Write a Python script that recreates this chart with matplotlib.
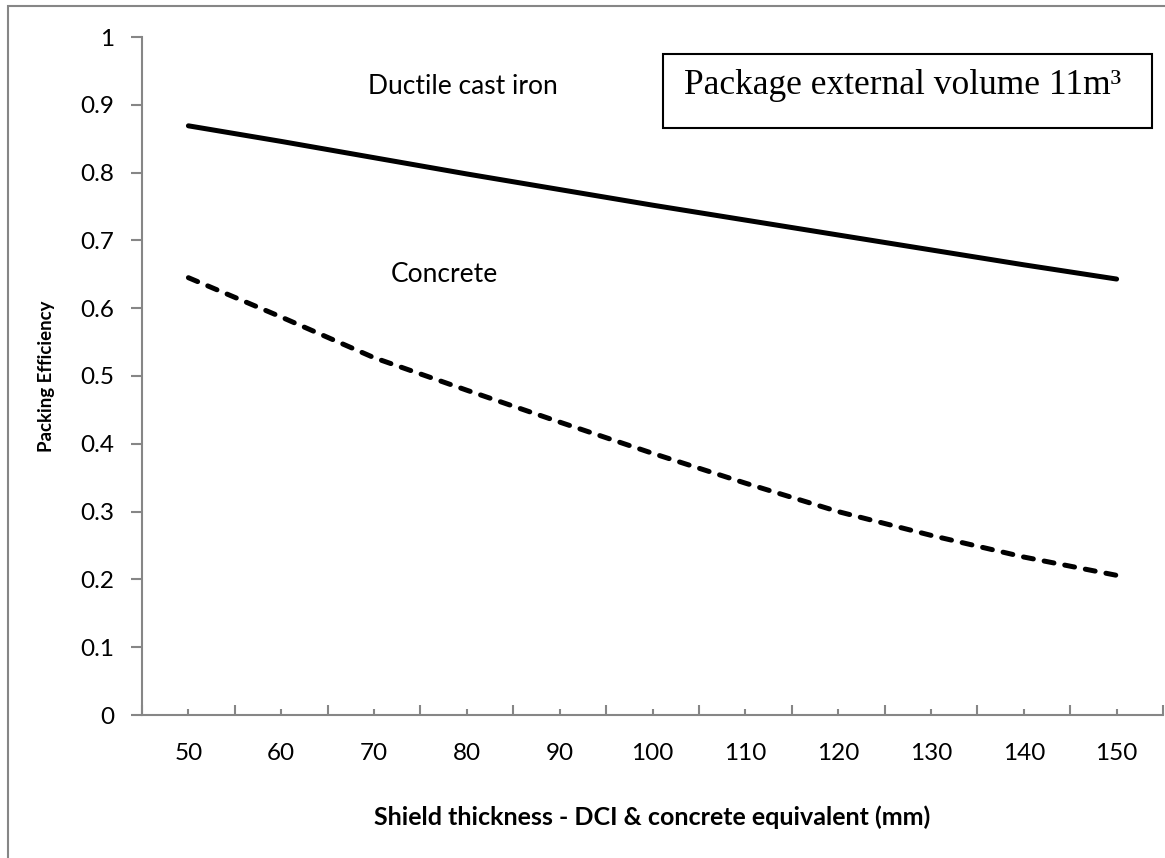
import matplotlib
matplotlib.use("Agg")
import matplotlib.pyplot as plt
from matplotlib.patches import Rectangle
from matplotlib.ticker import FixedLocator

thickness = [50, 60, 70, 80, 90, 100, 110, 120, 130, 140, 150]
dci = [0.869, 0.846, 0.822, 0.798, 0.775, 0.752, 0.730, 0.708, 0.686, 0.664, 0.643]
concrete = [0.645, 0.587, 0.527, 0.479, 0.432, 0.386, 0.342, 0.300, 0.265, 0.233, 0.206]
y_ticks = [0, 0.1, 0.2, 0.3, 0.4, 0.5, 0.6, 0.7, 0.8, 0.9, 1]
y_labels = ["0", "0.1", "0.2", "0.3", "0.4", "0.5", "0.6", "0.7", "0.8", "0.9", "1"]

W, H = 1165, 858
fig = plt.figure(figsize=(W / 100, H / 100), dpi=100)
fig.patch.set_facecolor("white")

# outer chart border
fig.add_artist(Rectangle((8 / W, -0.05), 1.2, 1 - 6 / H + 0.05, transform=fig.transFigure,
                         fill=False, edgecolor="#868686", linewidth=1.5))

ax = fig.add_axes([142 / W, 1 - 715 / H, (1163 - 142) / W, (715 - 37) / H])
ax.set_xlim(45, 155)
ax.set_ylim(0, 1)

ax.plot(thickness, dci, color="black", linewidth=3.6, solid_capstyle="round")
ax.plot(thickness, concrete, color="black", linewidth=3.6, dash_capstyle="round",
        dashes=(2.0, 2.2))

for s in ["top", "right"]:
    ax.spines[s].set_visible(False)
for s in ["left", "bottom"]:
    ax.spines[s].set_color("#868686")
    ax.spines[s].set_linewidth(1.5)

FAM = ["Lato", "DejaVu Sans"]
tick_font = dict(family=FAM, size=17.5)
ax.set_xticks(thickness)
ax.set_xticklabels([str(t) for t in thickness], fontdict=tick_font)
ax.xaxis.set_minor_locator(FixedLocator([45 + 10 * i for i in range(12)]))
ax.tick_params(axis="x", which="major", direction="in", length=4, width=1.5,
               color="#868686", pad=20)
ax.tick_params(axis="x", which="minor", direction="in", length=7, width=1.5,
               color="#868686")
ax.set_yticks(y_ticks)
ax.set_yticklabels(y_labels, fontdict=tick_font)
ax.tick_params(axis="y", which="major", direction="out", length=8, width=1.5,
               color="#868686", pad=12)

ax.set_xlabel("Shield thickness - DCI & concrete equivalent (mm)",
              family=FAM, fontweight="bold", fontsize=18,
              labelpad=30)
ax.set_ylabel("Packing Efficiency", family=FAM,
              fontweight="bold", fontsize=13.4, labelpad=18)

ax.text(463 / W, 1 - 87 / H, "Ductile cast iron", transform=fig.transFigure,
        ha="center", va="center", family=FAM, fontsize=19)
ax.text(444 / W, 1 - 275 / H, "Concrete", transform=fig.transFigure,
        ha="center", va="center", family=FAM, fontsize=19)

fig.add_artist(Rectangle((663 / W, 1 - 128 / H), (1152 - 663) / W, (128 - 54) / H,
                         transform=fig.transFigure, fill=True, facecolor="white",
                         edgecolor="black", linewidth=1.5))
fig.text(684 / W, 1 - 94 / H, "Package external volume 11m\u00b3",
         family=["Liberation Serif", "DejaVu Serif"], fontsize=25.5,
         ha="left", va="baseline")

fig.savefig("out.png", dpi=100)
